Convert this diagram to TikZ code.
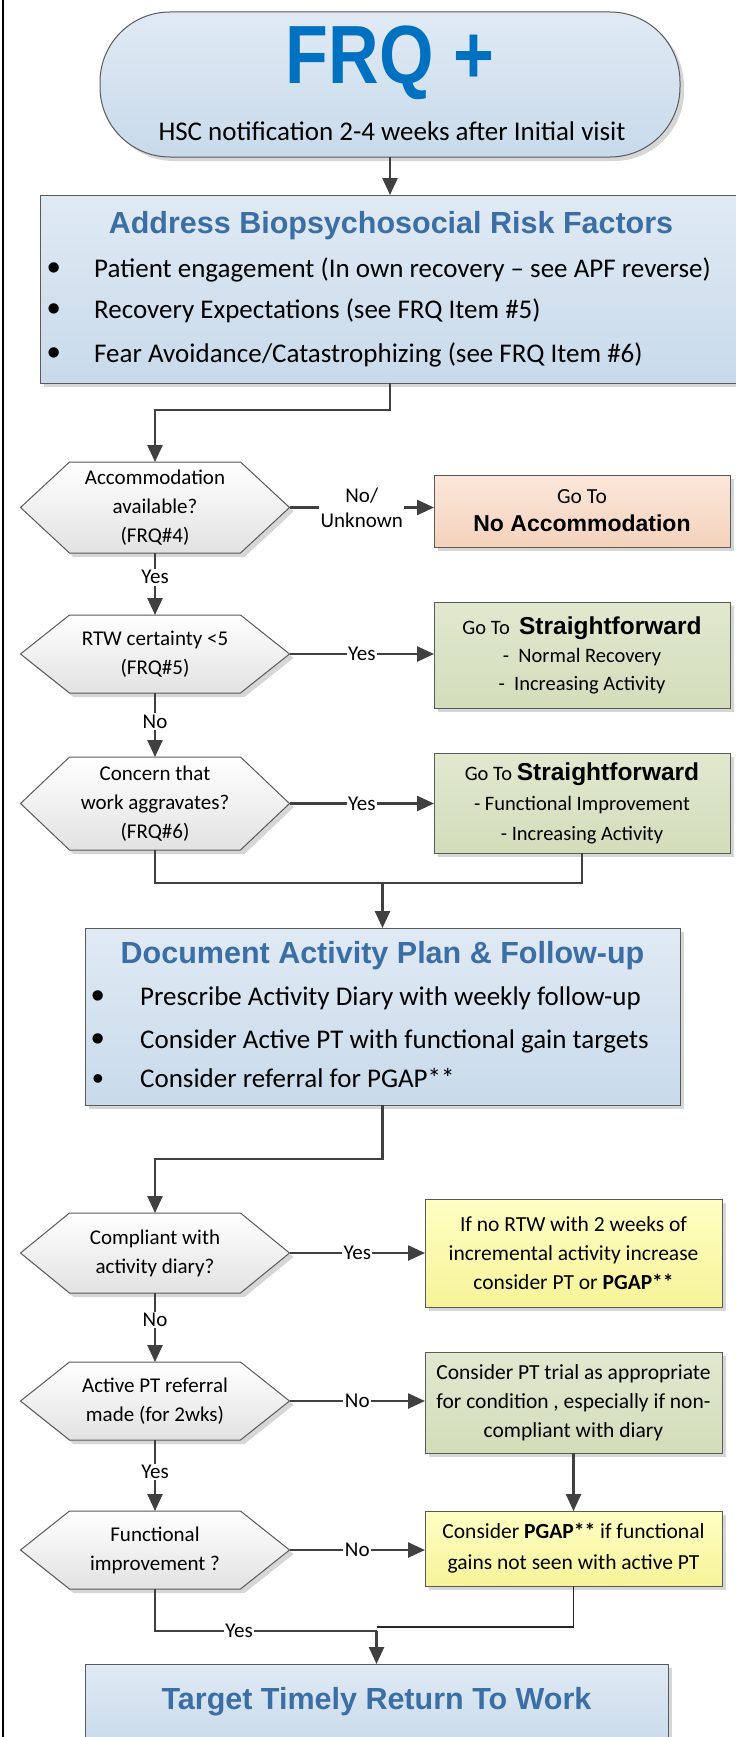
\documentclass[tikz,border=0pt]{standalone}
\usepackage{fontspec}
\usepackage{graphicx}
\setmainfont{Carlito}
\newfontfamily\arialf{Liberation Sans}
\usetikzlibrary{arrows.meta,shadows,backgrounds,calc}
\definecolor{frqblue}{RGB}{0,112,192}
\definecolor{ttlblue}{RGB}{58,110,165}
\definecolor{bluetop}{RGB}{224,234,244}
\definecolor{bluebot}{RGB}{200,218,235}
\definecolor{linegray}{RGB}{64,64,64}
\definecolor{edgegray}{RGB}{90,90,90}
\definecolor{peachtop}{RGB}{251,231,218}
\definecolor{peachbot}{RGB}{244,210,188}
\definecolor{olivetop}{RGB}{225,232,207}
\definecolor{olivebot}{RGB}{211,221,186}
\definecolor{yeltop}{RGB}{255,255,196}
\definecolor{yelbot}{RGB}{246,243,152}
\definecolor{hexbot}{RGB}{226,226,226}
\newcommand\hexbg[1]{\begin{scope}[on background layer]\path[hexfill] (#1.west) -- ([xshift=49pt]#1.north west) -- ([xshift=-49pt]#1.north east) -- (#1.east) -- ([xshift=-49pt]#1.south east) -- ([xshift=49pt]#1.south west) -- cycle;\end{scope}}
\begin{document}
\begin{tikzpicture}[x=1pt,y=-1pt,
 shadowed/.style={drop shadow={shadow xshift=4pt,shadow yshift=-4pt,fill=black,opacity=0.16}},
 basebox/.style={rectangle, draw=edgegray, line width=1pt, shadowed, inner sep=0pt, outer sep=0pt},
 bluebox/.style={basebox, top color=bluetop, bottom color=bluebot},
 peachbox/.style={basebox, top color=peachtop, bottom color=peachbot},
 olivebox/.style={basebox, top color=olivetop, bottom color=olivebot},
 yelbox/.style={basebox, top color=yeltop, bottom color=yelbot},
 rbox/.style={minimum width=296pt, align=center},
 hexfill/.style={draw=edgegray, line width=1pt, top color=white, bottom color=hexbot, shadowed},
 dec/.style={rectangle, minimum width=269pt, inner sep=0pt, outer sep=0pt, align=center, font=\fontsize{21}{29}\selectfont},
 wire/.style={draw=linegray, line width=2.5pt},
 conn/.style={wire, -{Triangle[length=17pt,width=15pt]}},
 thinwire/.style={draw=black!85, line width=1.3pt},
 lbl/.style={font=\fontsize{21}{25}\selectfont, fill=white, inner sep=1.5pt, align=center},
 ttl/.style={anchor=base, inner sep=0pt, text=ttlblue, font=\arialf\bfseries\fontsize{30.5}{36}\selectfont},
 body/.style={anchor=base west, inner sep=0pt, font=\fontsize{27}{32}\selectfont},
 bul/.style={anchor=base, inner sep=0pt, font=\arialf\fontsize{38}{40}\selectfont},
]
\useasboundingbox (0,0) rectangle (736,1737);
\begin{scope}[on background layer]\fill[white] (0,0) rectangle (736,1737);\end{scope}
\clip (0,0) rectangle (736,1737);

% left frame line
\draw[line width=2.5pt, black] (3,-5) -- (3,1745);

% terminator
\node[bluebox, minimum width=580pt, minimum height=145pt, rounded corners=70pt] (term) at (390,84.5) {};
\node[anchor=base, inner sep=0pt, text=frqblue, font=\arialf\bfseries\fontsize{70}{80}\selectfont] (frq) at (390,83) {\scalebox{1}[1.18]{FRQ +}};
\node[anchor=base, inner sep=0pt, font=\fontsize{27}{32}\selectfont] (hsc) at (392,140) {HSC notification 2-4 weeks after Initial visit};

% risk factors box
\node[bluebox, minimum width=700pt, minimum height=188pt] (risk) at (390,289) {};
\node[ttl] (rt) at (391,233) {Address Biopsychosocial Risk Factors};
\node[bul] (rb1) at (54,280) {•};
\node[body] (r1) at (94,277) {Patient engagement (In own recovery – see APF reverse)};
\node[bul] (rb2) at (54,321) {•};
\node[body] (r2) at (94,318) {Recovery Expectations (see FRQ Item \#5)};
\node[bul] (rb3) at (54,365) {•};
\node[body] (r3) at (94,362) {Fear Avoidance/Catastrophizing (see FRQ Item \#6)};

% decisions
\node[dec, minimum height=91pt] (d1) at (155,507.5) {Accommodation\\available?\\(FRQ\#4)};
\node[dec, minimum height=78pt] (d2) at (155,654) {RTW certainty <5\\(FRQ\#5)};
\node[dec, minimum height=93pt] (d3) at (155,803.5) {Concern that\\work aggravates?\\(FRQ\#6)};
\node[dec, minimum height=80pt] (d4) at (155,1253) {Compliant with\\activity diary?};
\node[dec, minimum height=78pt] (d5) at (155,1401) {Active PT referral\\made (for 2wks)};
\node[dec, minimum height=78pt] (d6) at (155,1550) {Functional\\improvement ?};
\hexbg{d1}\hexbg{d2}\hexbg{d3}\hexbg{d4}\hexbg{d5}\hexbg{d6}

% right boxes
\node[peachbox, rbox, minimum height=72pt, font=\fontsize{21.5}{28}\selectfont] (noacc) at (582,511) {Go To\\{\arialf\bfseries\fontsize{23}{28}\selectfont No Accommodation}};
\node[olivebox, rbox, minimum height=106pt, font=\fontsize{20.5}{28}\selectfont] (sf1) at (582,655) {Go To\ \ {\arialf\bfseries\fontsize{24.5}{28}\selectfont Straightforward}\\-\ \ Normal Recovery\\-\ \ Increasing Activity};
\node[olivebox, rbox, minimum height=100pt, font=\fontsize{20.5}{30}\selectfont] (sf2) at (582,803) {Go To {\arialf\bfseries\fontsize{24.5}{30}\selectfont Straightforward}\\- Functional Improvement\\- Increasing Activity};
\node[yelbox, minimum width=297pt, minimum height=108pt, align=center, font=\fontsize{21.5}{29}\selectfont] (y1) at (573.5,1253) {If no RTW with 2 weeks of\\incremental activity increase\\consider PT or \textbf{PGAP**}};
\node[olivebox, minimum width=297pt, minimum height=101pt, align=center, font=\fontsize{21.5}{29}\selectfont] (g2) at (573.5,1402.5) {Consider PT trial as appropriate\\for condition , especially if non-\\compliant with diary};
\node[yelbox, minimum width=297pt, minimum height=75pt, align=center, font=\fontsize{21.5}{31}\selectfont] (y2) at (573.5,1548.5) {Consider \textbf{PGAP**} if functional\\gains not seen with active PT};

% document box
\node[bluebox, minimum width=595pt, minimum height=177pt] (doc) at (382.5,1016.5) {};
\node[ttl] (dt) at (382.5,963) {Document Activity Plan \& Follow-up};
\node[bul] (db1) at (98,1008) {•};
\node[body] (t1) at (140,1005) {Prescribe Activity Diary with weekly follow-up};
\node[bul] (db2) at (98,1051) {•};
\node[body] (t2) at (140,1048) {Consider Active PT with functional gain targets};
\node[bul, font=\arialf\fontsize{32}{34}\selectfont] (db3) at (98,1089) {•};
\node[body] (t3) at (140,1087) {Consider referral for PGAP**};

% final box
\node[bluebox, minimum width=583pt, minimum height=82pt] (fin) at (376.5,1705) {};
\node[ttl] (ft) at (376.5,1709) {Target Timely Return To Work};

% connectors
\draw[conn] (term.south) -- (term.south |- risk.north);
\draw[conn] (risk.south) -- ++(0,27) -| (d1.north);
\draw[conn] (d1.east) -- node[lbl]{No/\\Unknown} (d1.east -| noacc.west);
\draw[conn] (d1.south) -- node[lbl,pos=0.39]{Yes} (d2.north);
\draw[conn] (d2.east) -- node[lbl]{Yes} (d2.east -| sf1.west);
\draw[conn] (d2.south) -- node[lbl,pos=0.45]{No} (d3.north);
\draw[conn] (d3.east) -- node[lbl]{Yes} (d3.east -| sf2.west);
\coordinate (m1) at (doc.north |- 0,883);
\draw[wire] (d3.south) |- (m1) -| (sf2.south);
\draw[conn] (m1) -- (doc.north);
\draw[conn] (doc.south) -- ++(0,54) -| (d4.north);
\draw[conn] (d4.east) -- node[lbl]{Yes} (d4.east -| y1.west);
\draw[conn] (d4.south) -- node[lbl,pos=0.39]{No} (d5.north);
\draw[conn] (d5.east) -- node[lbl]{No} (d5.east -| g2.west);
\draw[conn] (g2.south) -- (y2.north);
\draw[conn] (d5.south) -- node[lbl,pos=0.45]{Yes} (d6.north);
\draw[conn] (d6.east) -- node[lbl]{No} (d6.east -| y2.west);
\coordinate (m2) at (fin.north |- 0,1631);
\draw[thinwire] (y2.south) |- (fin.north |- 0,1627);
\draw[wire] (d6.south) |- node[lbl,pos=0.69]{Yes} (m2);
\draw[conn] (m2) -- (fin.north);
\end{tikzpicture}
\end{document}
